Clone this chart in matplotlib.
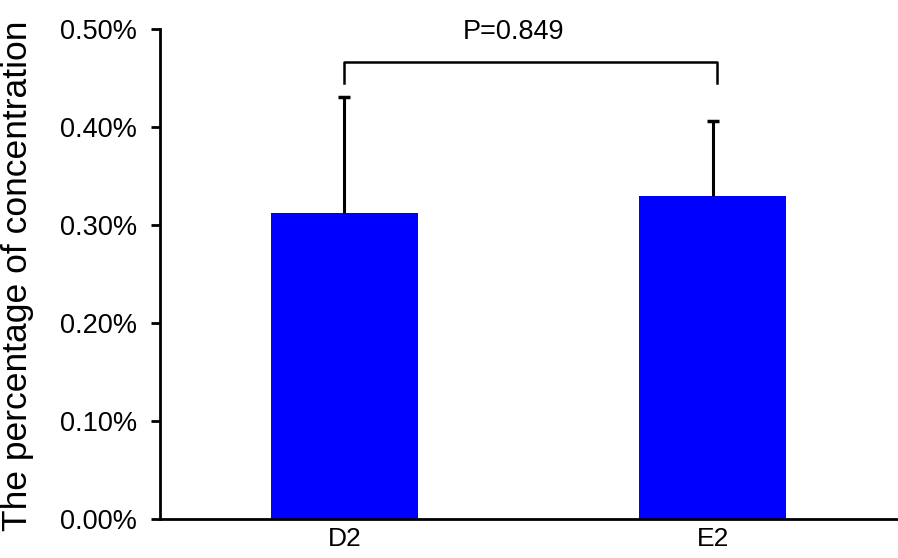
import matplotlib
matplotlib.use("Agg")
import matplotlib.pyplot as plt
from matplotlib.ticker import FuncFormatter

categories = ["D2", "E2"]
values = [0.312, 0.330]
errors = [0.119, 0.0765]
p_text = "P=0.849"
yticks = [0.0, 0.1, 0.2, 0.3, 0.4, 0.5]

plt.rcParams['font.family'] = ['Liberation Sans', 'DejaVu Sans']

fig = plt.figure(figsize=(8.98, 5.58), dpi=100)
ax = fig.add_axes([0.1782, 0.0699, 0.8207, 0.8776])
x = list(range(len(categories)))
ax.bar(x, values, width=0.4, color="#0000FF", zorder=2)
eb = ax.errorbar(x, values, yerr=[[0, 0], errors], fmt="none", ecolor="black",
                 elinewidth=2.2, capsize=4.5, capthick=2.5, zorder=3)
# hide lower caps (only upward error bars)
caps = eb[1]
if len(caps) == 2:
    caps[0].set_visible(False)

# significance bracket
by, bdrop = 0.467, 0.0215
ax.plot([0, 0, 1.012, 1.012], [by - bdrop, by, by, by - bdrop], color="black", lw=1.8,
        clip_on=False)
ax.text(0.46, 0.497, p_text, ha="center", va="center", fontsize=19.5)

ax.set_xlim(-0.5, 1.5)
ax.set_ylim(0, 0.5)
ax.set_yticks(yticks)
ax.yaxis.set_major_formatter(FuncFormatter(lambda v, p: f"{v:.2f}%"))
ax.set_xticks(x)
ax.set_xticklabels(categories)
ax.tick_params(axis="y", length=6.5, width=2, labelsize=19.5, direction="out", pad=10)
ax.tick_params(axis="x", length=0, labelsize=19, pad=6)
for s in ["top", "right"]:
    ax.spines[s].set_visible(False)
for s in ["left", "bottom"]:
    ax.spines[s].set_linewidth(2)
fig.text(18 / 898, 1 - 276 / 558, "The percentage of concentration", rotation=90,
         ha="center", va="center", fontsize=25.5)

fig.savefig("out.png", dpi=100)
